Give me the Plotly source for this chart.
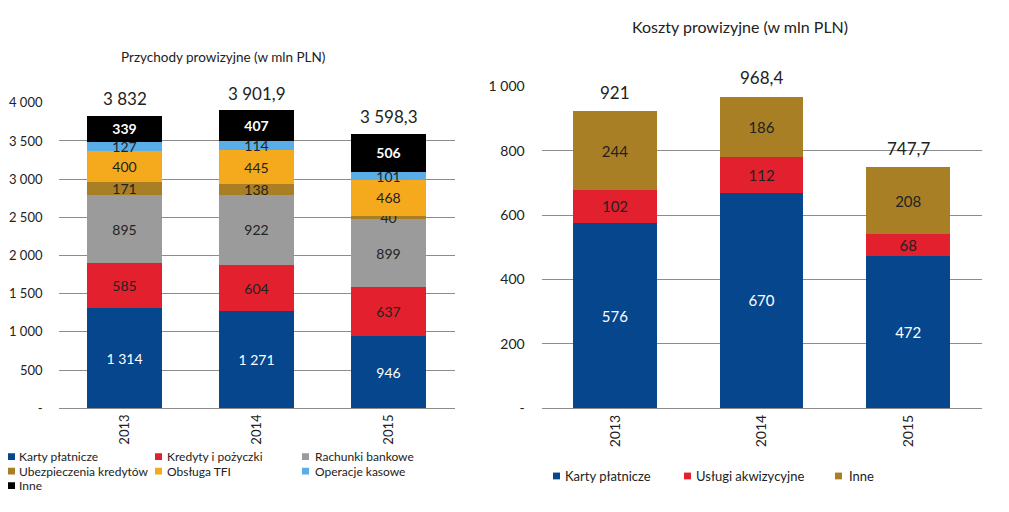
import plotly.graph_objects as go

W, H = 1009, 512
FONT = "Lato"

# ---------------- data ----------------
years = ["2013", "2014", "2015"]

# Przychody prowizyjne (w mln PLN)
rev_karty = [1314, 1271, 946]
rev_kredyty = [585, 604, 637]
rev_rachunki = [895, 922, 899]
rev_ubezp = [171, 138, 40]
rev_tfi = [400, 445, 468]
rev_kasowe = [127, 114, 101]
rev_inne = [339, 407, 506]
rev_totals = [3832, 3901.9, 3598.3]
rev_total_labels = ["3 832", "3 901,9", "3 598,3"]
rev_tickvals = [0, 500, 1000, 1500, 2000, 2500, 3000, 3500, 4000]
rev_ticktext = ["-", "500", "1 000", "1 500", "2 000", "2 500", "3 000", "3 500", "4 000"]

# Koszty prowizyjne (w mln PLN)
cost_karty = [576, 670, 472]
cost_uslugi = [102, 112, 68]
cost_inne = [244, 186, 208]
cost_totals = [921, 968.4, 747.7]
cost_total_labels = ["921", "968,4", "747,7"]
cost_tickvals = [0, 200, 400, 600, 800, 1000]
cost_ticktext = ["-", "200", "400", "600", "800", "1 000"]

NAVY = "#06468d"
RED = "#e3202e"
GRAY = "#9b9b9b"
GOLD = "#a97f26"
ORANGE = "#f5a91c"
LBLUE = "#5aaee8"
BLACK = "#000000"
DARK = "#222222"


def fmt(v):
    return f"{v:,}".replace(",", " ")


def px_x(p):
    return p / W


def px_y(p):
    return 1 - p / H


fig = go.Figure()

# legend layout: (marker left px, row centre px, text start px)
left_series = [
    ("Karty płatnicze", rev_karty, NAVY, "white", False, (8, 463, 17)),
    ("Kredyty i pożyczki", rev_kredyty, RED, DARK, False, (155, 463, 165)),
    ("Rachunki bankowe", rev_rachunki, GRAY, DARK, False, (302, 463, 313)),
    ("Ubezpieczenia kredytów", rev_ubezp, GOLD, DARK, False, (8, 478, 17)),
    ("Obsługa TFI", rev_tfi, ORANGE, DARK, False, (155, 478, 165)),
    ("Operacje kasowe", rev_kasowe, LBLUE, DARK, False, (302, 478, 313)),
    ("Inne", rev_inne, BLACK, "white", True, (8, 493, 17)),
]
right_series = [
    ("Karty płatnicze", cost_karty, NAVY, "white", False, (553, 483, 563)),
    ("Usługi akwizycyjne", cost_uslugi, RED, DARK, False, (684, 483, 694)),
    ("Inne", cost_inne, GOLD, DARK, False, (835, 483, 847)),
]

shapes = []
annotations = []
for side, series in (("L", left_series), ("R", right_series)):
    for name, vals, color, tcolor, bold, (mx, my, tx) in series:
        texts = [f"<b>{fmt(v)}</b>" if bold else fmt(v) for v in vals]
        fig.add_trace(go.Bar(
            x=years, y=vals, name=name,
            marker=dict(color=color, line=dict(width=0)),
            width=0.57,
            text=texts, textposition="inside", insidetextanchor="middle",
            textangle=0, constraintext="none",
            insidetextfont=dict(family=FONT, size=14 if side == "L" else 15, color=tcolor),
            xaxis="x" if side == "L" else "x2",
            yaxis="y" if side == "L" else "y2",
            showlegend=False, hoverinfo="x+y+name",
        ))
        # legend entry: small square + label
        shapes.append(dict(type="rect", xref="paper", yref="paper",
                           x0=px_x(mx), x1=px_x(mx + 7),
                           y0=px_y(my + 3.5), y1=px_y(my - 3.5),
                           fillcolor=color, line=dict(width=0)))
        annotations.append(dict(x=px_x(tx), y=px_y(my), xref="paper", yref="paper",
                                text=name, showarrow=False, xanchor="left", yanchor="middle",
                                font=dict(family=FONT, size=12 if side == "L" else 13, color=DARK)))

for i, (tv, tl) in enumerate(zip(rev_totals, rev_total_labels)):
    annotations.append(dict(x=i, y=tv, xref="x", yref="y", text=tl, showarrow=False,
                            yshift=17, yanchor="middle",
                            font=dict(family=FONT, size=17, color=DARK)))
for i, (tv, tl) in enumerate(zip(cost_totals, cost_total_labels)):
    annotations.append(dict(x=i, y=tv, xref="x2", yref="y2", text=tl, showarrow=False,
                            yshift=19, yanchor="middle",
                            font=dict(family=FONT, size=17, color=DARK)))
annotations.append(dict(x=px_x(223), y=px_y(50), xref="paper", yref="paper",
                        text="Przychody prowizyjne (w mln PLN)", showarrow=False,
                        xanchor="center", yanchor="middle",
                        font=dict(family=FONT, size=13.5, color=DARK)))
annotations.append(dict(x=px_x(740), y=px_y(18), xref="paper", yref="paper",
                        text="Koszty prowizyjne (w mln PLN)", showarrow=False,
                        xanchor="center", yanchor="middle",
                        font=dict(family=FONT, size=16, color=DARK)))

GRID = "#8c8c8c"
xcommon = dict(type="category", tickangle=-90, showgrid=False, showline=True,
               linecolor=GRID, linewidth=1, ticks="", range=[-0.5, 2.5])
ycommon = dict(showgrid=True, gridcolor=GRID, gridwidth=1, zeroline=False,
               showline=False, ticks="")

fig.update_layout(
    width=W, height=H, autosize=False,
    margin=dict(l=0, r=0, t=0, b=0),
    paper_bgcolor="white", plot_bgcolor="white",
    barmode="stack", showlegend=False,
    font=dict(family=FONT, size=12, color=DARK),
    xaxis=dict(domain=[px_x(58.5), px_x(454.5)], anchor="y",
               tickfont=dict(family=FONT, size=13, color=DARK), **xcommon),
    yaxis=dict(domain=[px_y(413), px_y(97)], anchor="x", range=[0, 4000],
               tickvals=rev_tickvals, ticktext=rev_ticktext, ticklabelstandoff=15,
               tickfont=dict(family=FONT, size=13, color=DARK), **ycommon),
    xaxis2=dict(domain=[px_x(541.7), px_x(981.5)], anchor="y2",
                tickfont=dict(family=FONT, size=14, color=DARK), **xcommon),
    yaxis2=dict(domain=[px_y(413), px_y(80)], anchor="x2", range=[0, 1000],
                tickvals=cost_tickvals, ticktext=cost_ticktext, ticklabelstandoff=16,
                tickfont=dict(family=FONT, size=14, color=DARK), **ycommon),
    annotations=annotations,
    shapes=shapes,
)

fig.write_html("out.html")
